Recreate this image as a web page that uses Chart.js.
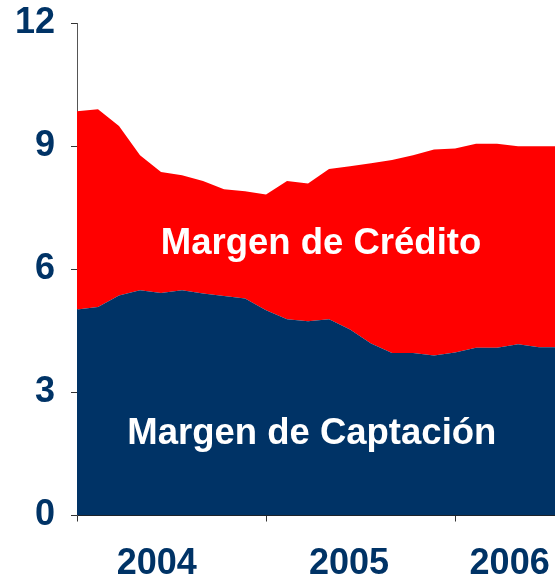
<!DOCTYPE html>
<html>
<head>
<meta charset="utf-8">
<script src="https://cdn.jsdelivr.net/npm/chart.js@4/dist/chart.umd.min.js"></script>
<style>
html,body{margin:0;padding:0;background:#fff;}
canvas{display:block;}
</style>
</head>
<body>
<canvas id="c" width="555" height="577"></canvas>
<script>
// Data (9 observations per year, starting at the beginning of 2004)
const periods = Array.from({length: 24}, (_, i) => i);
const captacion = [5.02,5.08,5.36,5.49,5.42,5.49,5.41,5.35,5.29,5.00,4.78,4.73,4.78,4.53,4.19,3.96,3.96,3.90,3.97,4.09,4.09,4.17,4.10,4.10];
const credito   = [4.83,4.82,4.13,3.29,2.95,2.80,2.74,2.60,2.61,2.82,3.37,3.36,3.66,3.98,4.39,4.70,4.82,5.02,4.97,4.97,4.97,4.83,4.90,4.90];
const yearLabels = ['2004','2005','2006'];
const yTicks = [0,3,6,9,12];
const seriesNames = ['Margen de Captación','Margen de Crédito'];

const PER_YEAR = 9;
const NAVY = '#003366';
const RED = '#FF0000';
const FONT = "'Liberation Sans', Arial, sans-serif";

// layout constants
const yearBoundaries = yearLabels.map((_, i) => i * PER_YEAR);
const yearLabelPos = [3.8, 12.95, 20.6];
const xMax = 22.76;
const labelSpots = [
  {text: seriesNames[1], x: 11.62, y: 6.38},
  {text: seriesNames[0], x: 11.18, y: 1.74}
];

const labelPlugin = {
  id: 'areaLabels',
  afterDatasetsDraw(chart) {
    const {ctx, scales} = chart;
    ctx.save();
    ctx.fillStyle = '#FFFFFF';
    ctx.font = 'bold 36.5px ' + FONT;
    ctx.textAlign = 'center';
    ctx.textBaseline = 'alphabetic';
    labelSpots.forEach(s => {
      ctx.fillText(s.text, scales.x.getPixelForValue(s.x), scales.y.getPixelForValue(s.y));
    });
    ctx.restore();
  }
};

new Chart(document.getElementById('c'), {
  type: 'line',
  data: {
    datasets: [
      {
        label: seriesNames[0],
        data: periods.map((p, i) => ({x: p, y: captacion[i]})),
        backgroundColor: NAVY,
        borderWidth: 0,
        pointRadius: 0,
        fill: 'origin',
        tension: 0
      },
      {
        label: seriesNames[1],
        data: periods.map((p, i) => ({x: p, y: credito[i]})),
        backgroundColor: RED,
        borderWidth: 0,
        pointRadius: 0,
        fill: '-1',
        tension: 0
      }
    ]
  },
  options: {
    responsive: false,
    animation: false,
    layout: {padding: {top: 23, right: 0, bottom: 0, left: 0}},
    plugins: {legend: {display: false}, tooltip: {enabled: false}},
    scales: {
      x: {
        type: 'linear',
        min: 0,
        max: xMax,
        afterBuildTicks(scale) {
          const t = [];
          yearBoundaries.forEach(v => t.push({value: v}));
          yearLabelPos.forEach(v => t.push({value: v}));
          t.sort((a, b) => a.value - b.value);
          scale.ticks = t;
        },
        afterFit(scale) {
          scale.height = 61.5;
          scale.paddingLeft = 0;
          scale.paddingRight = 0;
        },
        grid: {
          drawOnChartArea: false,
          drawTicks: true,
          tickLength: 6,
          tickColor: ctx => (ctx.tick && yearBoundaries.includes(ctx.tick.value)) ? '#333333' : 'rgba(0,0,0,0)'
        },
        border: {display: true, color: '#222222', width: 1},
        ticks: {
          autoSkip: false,
          maxRotation: 0,
          padding: 21,
          color: NAVY,
          font: {family: FONT, size: 36, weight: 'bold'},
          callback: (value) => {
            const idx = yearLabelPos.indexOf(value);
            return idx >= 0 ? yearLabels[idx] : '';
          }
        }
      },
      y: {
        stacked: true,
        min: 0,
        max: 12,
        afterBuildTicks(scale) { scale.ticks = yTicks.map(v => ({value: v})); },
        afterFit(scale) {
          scale.width = 77;
          scale.paddingTop = 0;
          scale.paddingBottom = 0;
        },
        grid: {drawOnChartArea: false, drawTicks: true, tickLength: 6, tickColor: '#333333'},
        border: {display: true, color: '#555555', width: 1},
        ticks: {
          padding: 16,
          color: NAVY,
          font: {family: FONT, size: 36, weight: 'bold', lineHeight: 1.0}
        }
      }
    }
  },
  plugins: [labelPlugin]
});
</script>
</body>
</html>
